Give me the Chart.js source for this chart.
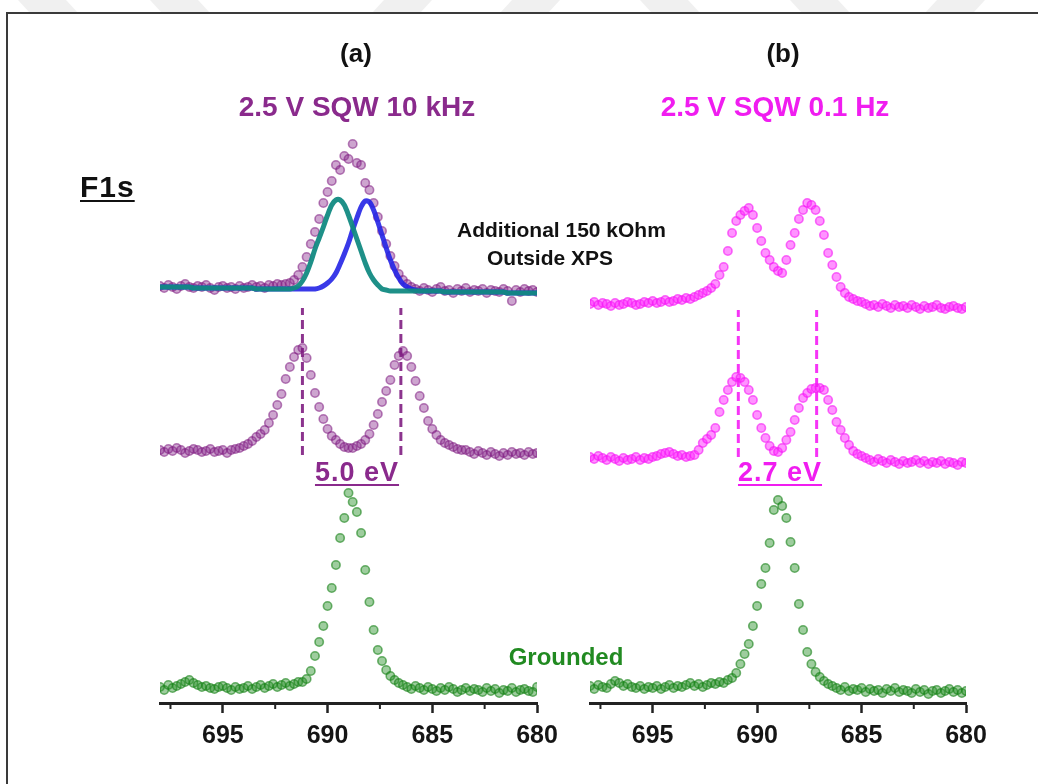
<!DOCTYPE html>
<html>
<head>
<meta charset="utf-8">
<title>F1s spectra</title>
<script src="https://cdn.jsdelivr.net/npm/chart.js@4.4.1/dist/chart.umd.min.js"></script>
<style>
  body { margin: 0; background: #fff; font-family: 'Liberation Sans', Arial, sans-serif; }
  #page { position: relative; width: 1038px; height: 784px; overflow: hidden; background: #fff; }
  #marks { position: absolute; left: 0; top: 0; }
  .frame { position: absolute; left: 6px; top: 12px; width: 1100px; height: 900px;
           border-left: 2.5px solid #3a3a3a; border-top: 2.5px solid #3a3a3a; }
  canvas { position: absolute; top: 0; }
  .lbl { position: absolute; font-weight: bold; line-height: 1; white-space: nowrap; }
  .mid { transform: translateX(-50%); }
  .ul { text-decoration: underline; text-decoration-thickness: 2px; text-underline-offset: 3px; }
</style>
</head>
<body>
<div id="page">
  <svg id="marks" width="1038" height="13">
    <polygon points="18,0 66,0 78,13 30,13" fill="#f0f0f0"/>
    <polygon points="150,0 198,0 210,13 162,13" fill="#f0f0f0"/>
    <polygon points="384,0 432,0 420,13 372,13" fill="#f0f0f0"/>
    <polygon points="512,0 560,0 548,13 500,13" fill="#f0f0f0"/>
    <polygon points="640,0 688,0 700,13 652,13" fill="#f0f0f0"/>
    <polygon points="790,0 838,0 850,13 802,13" fill="#f0f0f0"/>
    <polygon points="937,0 985,0 973,13 925,13" fill="#f0f0f0"/>
  </svg>
  <div class="frame"></div>
  <canvas id="chartA" width="600" height="784" style="left:0"></canvas>
  <canvas id="chartB" width="478" height="784" style="left:560px"></canvas>

  <div class="lbl mid" style="left:356px; top:40px; font-size:26px; color:#111">(a)</div>
  <div class="lbl mid" style="left:783px; top:40px; font-size:26px; color:#111">(b)</div>
  <div class="lbl mid" style="left:357px; top:93px; font-size:28px; color:#8a2a8c">2.5 V SQW 10 kHz</div>
  <div class="lbl mid" style="left:775px; top:93px; font-size:28px; color:#f01df0">2.5 V SQW 0.1 Hz</div>
  <div class="lbl ul" style="left:80px; top:172px; font-size:30px; letter-spacing:1px; color:#111">F1s</div>
  <div class="lbl" style="left:457px; top:219px; font-size:21px; color:#111">Additional 150 kOhm</div>
  <div class="lbl" style="left:487px; top:247px; font-size:21px; color:#111">Outside XPS</div>
  <div class="lbl mid ul" style="left:357px; top:459px; font-size:27px; letter-spacing:1px; color:#8a2a8c">5.0 eV</div>
  <div class="lbl mid ul" style="left:780px; top:459px; font-size:27px; letter-spacing:1px; color:#f01df0">2.7 eV</div>
  <div class="lbl mid" style="left:566px; top:645px; font-size:24px; color:#218a21">Grounded</div>
</div>

<script>
// Binding energy grid (eV), shared by every trace
const energy = [
  698, 697.8, 697.6, 697.4, 697.2, 697, 696.8, 696.6, 696.4, 696.2,
  696, 695.8, 695.6, 695.4, 695.2, 695, 694.8, 694.6, 694.4, 694.2,
  694, 693.8, 693.6, 693.4, 693.2, 693, 692.8, 692.6, 692.4, 692.2,
  692, 691.8, 691.6, 691.4, 691.2, 691, 690.8, 690.6, 690.4, 690.2,
  690, 689.8, 689.6, 689.4, 689.2, 689, 688.8, 688.6, 688.4, 688.2,
  688, 687.8, 687.6, 687.4, 687.2, 687, 686.8, 686.6, 686.4, 686.2,
  686, 685.8, 685.6, 685.4, 685.2, 685, 684.8, 684.6, 684.4, 684.2,
  684, 683.8, 683.6, 683.4, 683.2, 683, 682.8, 682.6, 682.4, 682.2,
  682, 681.8, 681.6, 681.4, 681.2, 681, 680.8, 680.6, 680.4, 680.2,
  680
];
const majorTicks = [695, 690, 685, 680];
const minorTicks = [697.5, 692.5, 687.5, 682.5];

// (a) 2.5 V SQW 10 kHz, intensities (a.u.) above each trace's baseline
const aTop = [
  3, 1, 4, 2, 0, 3, 5, 2, 1, 3,
  2, 4, 1, -1, 2, 3, 1, 2, 0, 3,
  1, 2, 4, 2, 3, 1, 4, 3, 5, 4,
  5, 6, 9, 14, 22, 32, 45, 57, 70, 86,
  97, 108, 124, 119, 133, 130, 145, 126, 124, 106,
  99, 86, 72, 58, 45, 33, 23, 15, 9, 5,
  2, 0, -2, 1, -1, -3, 0, 2, -2, -1,
  -4, 0, -2, 1, -3, -1, -2, 0, -4, -1,
  -2, -3, 0, -2, -12, -1, -3, 0, -2, -1,
  -3
];
// peak fit components for the top trace
const aFitLow = [
  2, 2, 2, 2, 2, 2, 2, 2, 1, 1,
  1, 1, 1, 1, 1, 1, 1, 1, 1, 1,
  1, 1, 1, 0, 0, 0, 0, 0, 0, 0,
  0, 0, 1, 3, 8, 16, 27, 40, 51, 62,
  74, 84, 89, 89, 84, 74, 62, 50, 38, 26,
  16, 9, 4, 0, -1, -2, -2, -2, -2, -2,
  -2, -2, -2, -2, -2, -2, -2, -2, -3, -3,
  -3, -3, -3, -3, -3, -3, -3, -3, -3, -3,
  -3, -3, -3, -4, -4, -4, -4, -4, -4, -4,
  -4
];
const aFitHigh = [
  2, 2, 2, 2, 2, 2, 2, 2, 1, 1,
  1, 1, 1, 1, 1, 1, 1, 1, 1, 1,
  1, 1, 1, 0, 0, 0, 0, 0, 0, 0,
  0, 0, 0, 0, 0, 0, 0, 0, 1, 3,
  6, 10, 16, 25, 35, 46, 59, 71, 82, 88,
  87, 79, 67, 54, 41, 29, 19, 11, 5, 2,
  0, -1, -2, -2, -2, -2, -2, -2, -3, -3,
  -3, -3, -3, -3, -3, -3, -3, -3, -3, -3,
  -3, -3, -3, -4, -4, -4, -4, -4, -4, -4,
  -4
];
const aMid = [
  1, -1, 2, 0, 3, 1, -2, 0, 2, 1,
  -1, 0, 2, -1, 0, 1, -2, 1, 2, 3,
  5, 7, 10, 14, 17, 21, 28, 36, 46, 57,
  72, 84, 94, 101, 103, 93, 76, 58, 44, 32,
  22, 15, 11, 7, 4, 3, 3, 5, 7, 11,
  17, 26, 37, 49, 60, 71, 86, 95, 100, 95,
  84, 70, 55, 43, 30, 22, 16, 11, 8, 6,
  4, 2, 1, 1, -1, -3, 0, -2, -4, -1,
  -3, -5, -2, -4, -1, -3, -2, -4, -1, -3,
  -2
];
const aGnd = [
  1, -2, 3, 0, 2, 4, 6, 8, 5, 3,
  1, 2, 0, -1, 1, 2, 0, -2, 1, -1,
  0, 2, -1, 1, 3, 0, 2, 4, 1, 3,
  5, 2, 4, 6, 6, 9, 17, 32, 46, 62,
  82, 100, 123, 150, 170, 195, 186, 176, 155, 118,
  86, 58, 38, 27, 18, 12, 8, 5, 3, 1,
  -1, 2, 0, -2, 1, -1, -3, 0, -2, 1,
  -1, -4, -2, 0, -3, -1, -2, -4, 0, -3,
  -1, -5, -2, -3, 0, -4, -2, -1, -3, -4,
  1
];

// (b) 2.5 V SQW 0.1 Hz
const bTop = [
  1, 3, 0, 2, 1, -1, 2, 0, 1, 3,
  2, 0, 1, 3, 2, 4, 2, 3, 5, 3,
  4, 6, 5, 7, 6, 8, 10, 12, 14, 17,
  21, 30, 38, 54, 72, 84, 90, 94, 97, 90,
  77, 64, 52, 45, 38, 34, 32, 45, 60, 72,
  86, 95, 102, 100, 95, 84, 70, 52, 40, 28,
  18, 12, 8, 6, 4, 3, 1, -1, 0, -2,
  1, -1, -3, 0, -2, -1, -3, 0, -2, -4,
  -1, -3, -2, 0, -3, -4, -2, -1, -3, -4,
  -2
];
const bMid = [
  3, 1, 4, 2, 0, 3, 1, -1, 2, 0,
  1, 3, 0, 2, 1, 3, 4, 6, 7, 8,
  6, 4, 5, 3, 4, 5, 10, 17, 21, 25,
  32, 48, 60, 70, 78, 83, 82, 78, 70, 60,
  45, 32, 22, 14, 9, 8, 12, 20, 28, 40,
  52, 62, 67, 71, 72, 72, 70, 60, 50, 38,
  30, 22, 15, 9, 6, 4, 2, 0, -2, 1,
  -1, -3, 0, -2, -4, -1, -3, -2, 0, -3,
  -1, -4, -2, -3, -1, -4, -2, -3, -5, -2,
  -3
];
const bGnd = [
  2, -1, 3, 1, 0, 4, 7, 5, 2, 4,
  1, 0, 2, -1, 1, 0, 2, -1, 1, 3,
  0, 2, 1, 3, 5, 2, 4, 1, 3, 5,
  4, 6, 5, 8, 10, 15, 24, 34, 44, 62,
  82, 104, 120, 145, 178, 188, 182, 170, 146, 120,
  84, 58, 36, 24, 16, 11, 7, 4, 2, 0,
  -2, 1, -3, -1, -2, 0, -4, -1, -3, -2,
  -5, -1, -3, 0, -4, -2, -3, -5, -1, -4,
  -2, -6, -3, -2, -5, -3, -1, -4, -2, -5,
  -3
];

// vertical stacking offsets: grounded, biased, biased + 150 kOhm
const offsetsA = [15, 252, 414];
const offsetsB = [15, 243, 398];

// peak positions marked with dashed lines, and their vertical span
const dashA = [691.2, 686.5];
const dashB = [690.9, 687.15];
const dashSpanA = [248, 395];
const dashSpanB = [246, 393];

const purple = { stroke: 'rgba(125,25,128,0.55)', fill: 'rgba(135,40,140,0.42)', line: 'rgba(128,30,130,0.9)' };
const magenta = { stroke: 'rgba(245,20,245,0.6)', fill: 'rgba(255,40,255,0.5)', line: 'rgba(245,30,245,0.9)' };
const green = { stroke: 'rgba(20,128,20,0.6)', fill: 'rgba(40,145,40,0.45)' };

function points(vals, off) {
  return energy.map((e, i) => ({ x: e, y: vals[i] + off }));
}

function markers(vals, off, c) {
  return {
    data: points(vals, off),
    showLine: false,
    pointRadius: 4.2,
    pointBorderWidth: 1.6,
    borderColor: c.stroke,
    backgroundColor: c.fill
  };
}

function fitLine(vals, off, color) {
  return {
    data: points(vals, off),
    showLine: true,
    borderColor: color,
    borderWidth: 5,
    pointRadius: 0,
    tension: 0.3
  };
}

function dashLine(xv, span, color) {
  return {
    data: [{ x: xv, y: span[0] }, { x: xv, y: span[1] }],
    showLine: true,
    borderColor: color,
    borderWidth: 3,
    borderDash: [9, 5],
    pointRadius: 0
  };
}

// short unlabeled ticks halfway between the labelled ones
const minorTickPlugin = {
  id: 'minorTicks',
  afterDraw(chart) {
    const sx = chart.scales.x;
    const ctx = chart.ctx;
    ctx.save();
    ctx.strokeStyle = '#222';
    ctx.lineWidth = 2;
    minorTicks.forEach(v => {
      const px = sx.getPixelForValue(v);
      ctx.beginPath();
      ctx.moveTo(px, sx.top);
      ctx.lineTo(px, sx.top + 6);
      ctx.stroke();
    });
    ctx.restore();
  }
};

function makeChart(id, datasets, padding) {
  return new Chart(document.getElementById(id), {
    type: 'scatter',
    data: { datasets: datasets },
    plugins: [minorTickPlugin],
    options: {
      responsive: false,
      animation: false,
      events: [],
      layout: { padding: padding },
      plugins: { legend: { display: false }, tooltip: { enabled: false } },
      scales: {
        x: {
          type: 'linear',
          min: 680,
          max: 698,
          reverse: true,
          afterBuildTicks: s => { s.ticks = majorTicks.map(v => ({ value: v })); },
          grid: { drawOnChartArea: false, drawTicks: true, tickLength: 10, tickWidth: 2.5, tickColor: '#222' },
          border: { display: true, width: 3, color: '#222' },
          ticks: {
            font: { family: 'Liberation Sans', size: 25, weight: 'bold' },
            color: '#151515',
            padding: 8,
            maxRotation: 0,
            autoSkip: false
          }
        },
        y: { display: false, min: 0, max: 583 }
      }
    }
  });
}

makeChart('chartA', [
  dashLine(dashA[0], dashSpanA, purple.line),
  dashLine(dashA[1], dashSpanA, purple.line),
  fitLine(aFitLow, offsetsA[2], 'rgba(18,138,130,0.95)'),
  fitLine(aFitHigh, offsetsA[2], 'rgba(35,35,230,0.9)'),
  markers(aTop, offsetsA[2], purple),
  markers(aMid, offsetsA[1], purple),
  markers(aGnd, offsetsA[0], green)
], { left: 160, right: 63, top: 120, bottom: 25 });

makeChart('chartB', [
  dashLine(dashB[0], dashSpanB, magenta.line),
  dashLine(dashB[1], dashSpanB, magenta.line),
  markers(bTop, offsetsB[2], magenta),
  markers(bMid, offsetsB[1], magenta),
  markers(bGnd, offsetsB[0], green)
], { left: 30, right: 72, top: 120, bottom: 25 });
</script>
</body>
</html>
